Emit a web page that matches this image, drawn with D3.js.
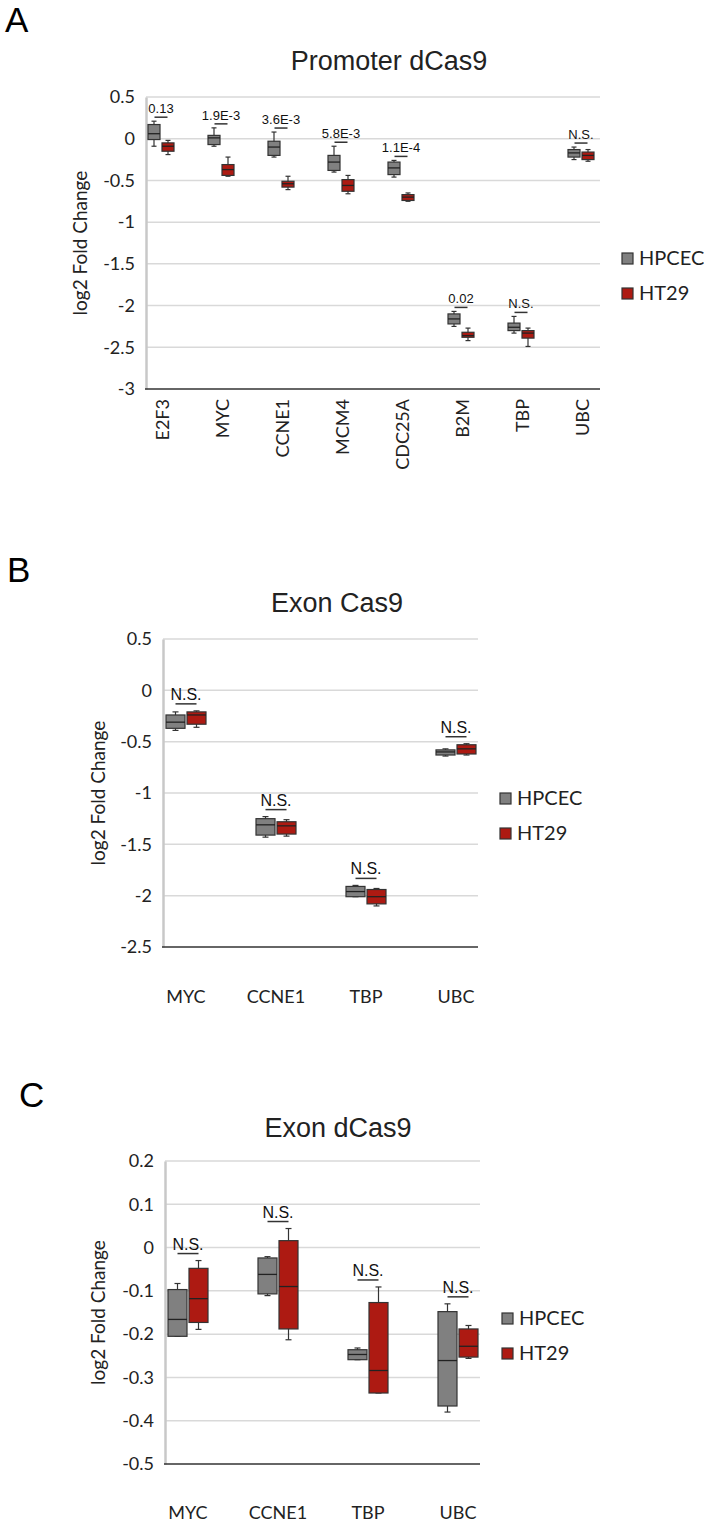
<!DOCTYPE html>
<html>
<head>
<meta charset="utf-8">
<script src="https://cdnjs.cloudflare.com/ajax/libs/d3/7.8.5/d3.min.js"></script>
<style>
body{margin:0;background:#fff}
</style>
</head>
<body>
<svg id="fig"></svg>
<script>
// each box: [whisker low, q1, median, q3, whisker high]
var promoterGenes = ["E2F3","MYC","CCNE1","MCM4","CDC25A","B2M","TBP","UBC"];
var promoterHPCEC = [[-0.09,-0.01,0.06,0.17,0.21],[-0.09,-0.07,0.01,0.04,0.13],[-0.22,-0.20,-0.10,-0.03,0.08],
    [-0.40,-0.38,-0.28,-0.20,-0.09],[-0.46,-0.43,-0.35,-0.28,-0.26],[-2.25,-2.22,-2.16,-2.10,-2.07],
    [-2.33,-2.30,-2.26,-2.21,-2.13],[-0.25,-0.22,-0.17,-0.13,-0.10]];
var promoterHT29 = [[-0.19,-0.15,-0.09,-0.05,-0.02],[-0.45,-0.44,-0.37,-0.31,-0.22],[-0.61,-0.58,-0.54,-0.51,-0.45],
    [-0.66,-0.63,-0.56,-0.49,-0.44],[-0.75,-0.74,-0.70,-0.67,-0.65],[-2.42,-2.38,-2.36,-2.32,-2.27],
    [-2.49,-2.39,-2.33,-2.30,-2.27],[-0.27,-0.25,-0.20,-0.16,-0.13]];
var promoterP = ["0.13","1.9E-3","3.6E-3","5.8E-3","1.1E-4","0.02","N.S.","N.S."];
var promoterTicks = [0.5,0,-0.5,-1,-1.5,-2,-2.5,-3];

var exonGenes = ["MYC","CCNE1","TBP","UBC"];
var exonHPCEC = [[-0.39,-0.37,-0.31,-0.24,-0.21],[-1.43,-1.41,-1.31,-1.25,-1.23],[-2.01,-2.01,-1.96,-1.91,-1.90],[-0.64,-0.63,-0.60,-0.58,-0.57]];
var exonHT29 = [[-0.36,-0.33,-0.24,-0.21,-0.20],[-1.42,-1.40,-1.32,-1.28,-1.26],[-2.10,-2.08,-2.01,-1.94,-1.93],[-0.63,-0.62,-0.57,-0.53,-0.52]];
var exonP = ["N.S.","N.S.","N.S.","N.S."];
var exonTicks = [0.5,0,-0.5,-1,-1.5,-2,-2.5];

var exonDGenes = ["MYC","CCNE1","TBP","UBC"];
var exonDHPCEC = [[-0.205,-0.205,-0.166,-0.097,-0.083],[-0.111,-0.107,-0.062,-0.024,-0.021],[-0.259,-0.259,-0.247,-0.236,-0.232],[-0.380,-0.366,-0.261,-0.148,-0.130]];
var exonDHT29 = [[-0.189,-0.173,-0.118,-0.048,-0.030],[-0.213,-0.188,-0.090,0.016,0.044],[-0.336,-0.336,-0.284,-0.127,-0.091],[-0.256,-0.253,-0.228,-0.188,-0.180]];
var exonDP = ["N.S.","N.S.","N.S.","N.S."];
var exonDTicks = [0.2,0.1,0,-0.1,-0.2,-0.3,-0.4,-0.5];

var seriesNames = ["HPCEC","HT29"];
var seriesColors = ["#808080","#ad1a12"];

var svg = d3.select("#fig").attr("width",704).attr("height",1536);

var sans = "'Liberation Sans', Arial, sans-serif";
var axisFont = "Lato, 'Open Sans', sans-serif";

var panels = [
  {letter:"A", lx:5, ly:32, title:"Promoter dCas9", tx:389, ty:70,
   genes:promoterGenes, sets:[promoterHPCEC,promoterHT29], pv:promoterP, ticks:promoterTicks,
   left:146, right:600, top:97, bottom:389, first:161, last:581,
   boxW:12, gap:2, capW:5, pFont:13, barW:13, pGap:4, rotate:true,
   ylx:80, legX:622, legY:[253,288]},
  {letter:"B", lx:7, ly:582, title:"Exon Cas9", tx:337, ty:612,
   genes:exonGenes, sets:[exonHPCEC,exonHT29], pv:exonP, ticks:exonTicks,
   left:163, right:478, top:639, bottom:947, first:186, last:456,
   boxW:19, gap:2, capW:6, pFont:16, barW:21, pGap:7, rotate:false, catY:1003,
   ylx:98, legX:500, legY:[793,828]},
  {letter:"C", lx:19, ly:1107, title:"Exon dCas9", tx:338, ty:1137,
   genes:exonDGenes, sets:[exonDHPCEC,exonDHT29], pv:exonDP, ticks:exonDTicks,
   left:165, right:480, top:1161, bottom:1464, first:188, last:458,
   boxW:19, gap:2, capW:6, pFont:16, barW:21, pGap:7, rotate:false, catY:1519,
   ylx:98, legX:502, legY:[1313,1348]}
];

panels.forEach(function(p){ drawPanel(p); });

function drawPanel(p){
  var g = svg.append("g");

  var y = d3.scaleLinear()
      .domain([d3.min(p.ticks), d3.max(p.ticks)])
      .range([p.bottom, p.top]);
  var x = d3.scalePoint()
      .domain(p.genes)
      .range([p.first, p.last]);

  // panel letter and title
  g.append("text").text(p.letter)
    .attr("x",p.lx).attr("y",p.ly)
    .style("font-family",sans).style("font-size","35px").attr("fill","#000");
  g.append("text").text(p.title)
    .attr("x",p.tx).attr("y",p.ty).attr("text-anchor","middle")
    .style("font-family",sans).style("font-size","27px").attr("fill","#222");

  // gridlines
  g.append("g").selectAll("line")
    .data(p.ticks.filter(function(t){ return t !== d3.min(p.ticks); }))
    .enter().append("line")
    .attr("x1",p.left).attr("x2",p.right)
    .attr("y1",function(d){ return y(d); }).attr("y2",function(d){ return y(d); })
    .attr("stroke","#d9d9d9").attr("stroke-width",1.5);

  // y axis
  var yAxis = d3.axisLeft(y).tickValues(p.ticks).tickSize(0).tickPadding(11)
      .tickFormat(function(d){ return String(Math.round(d*10)/10); });
  var ya = g.append("g").attr("transform","translate("+p.left+",0)").call(yAxis);
  ya.select(".domain").attr("stroke","#c8c8c8").attr("stroke-width",2.5);
  ya.selectAll("text").style("font-family",axisFont).style("font-size","18px").attr("fill","#222");

  // bottom axis line
  g.append("line").attr("x1",p.left-1).attr("x2",p.right)
    .attr("y1",p.bottom).attr("y2",p.bottom)
    .attr("stroke","#333").attr("stroke-width",1.5);

  // category labels
  var cats = g.append("g").selectAll("text").data(p.genes).enter().append("text")
    .text(function(d){ return d; })
    .style("font-family",axisFont).style("font-size","18px").attr("fill","#222");
  if(p.rotate){
    cats.attr("text-anchor","end")
      .attr("transform",function(d){ return "translate("+(x(d)+8)+","+(p.bottom+10)+") rotate(-90)"; });
  } else {
    cats.attr("text-anchor","middle")
      .attr("x",function(d){ return x(d); }).attr("y",p.catY);
  }

  // y label
  g.append("text").text("log2 Fold Change")
    .attr("text-anchor","middle")
    .attr("transform","translate("+(p.ylx+7)+","+((p.top+p.bottom)/2)+") rotate(-90)")
    .style("font-family",axisFont).style("font-size","19px").attr("fill","#222");

  // boxes
  p.sets.forEach(function(set,si){
    var off = si===0 ? -(p.boxW + p.gap/2) : p.gap/2;
    var bg = g.append("g").selectAll("g").data(set).enter().append("g")
      .attr("transform",function(d,i){ return "translate("+(x(p.genes[i])+off)+",0)"; });
    var mid = p.boxW/2;
    bg.append("line").attr("x1",mid).attr("x2",mid)
      .attr("y1",function(d){ return y(d[0]); }).attr("y2",function(d){ return y(d[4]); })
      .attr("stroke","#333").attr("stroke-width",1.2);
    bg.selectAll(".cap").data(function(d){ return [d[0],d[4]]; }).enter().append("line")
      .attr("x1",mid-p.capW/2).attr("x2",mid+p.capW/2)
      .attr("y1",function(v){ return y(v); }).attr("y2",function(v){ return y(v); })
      .attr("stroke","#333").attr("stroke-width",1.2);
    bg.append("rect").attr("x",0).attr("width",p.boxW)
      .attr("y",function(d){ return y(d[3]); })
      .attr("height",function(d){ return Math.max(1,y(d[1])-y(d[3])); })
      .attr("fill",seriesColors[si]).attr("stroke","#333").attr("stroke-width",1.2);
    bg.append("line").attr("x1",0).attr("x2",p.boxW)
      .attr("y1",function(d){ return y(d[2]); }).attr("y2",function(d){ return y(d[2]); })
      .attr("stroke","#222").attr("stroke-width",1.3);
  });

  // significance labels
  var sg = g.append("g").selectAll("g").data(p.pv).enter().append("g")
    .attr("transform",function(d,i){
      var top = Math.max(p.sets[0][i][4], p.sets[1][i][4]);
      return "translate("+x(p.genes[i])+","+(y(top)-p.pGap)+")";
    });
  sg.append("line").attr("x1",-p.barW/2).attr("x2",p.barW/2)
    .attr("stroke","#333").attr("stroke-width",1.5);
  sg.append("text").text(function(d){ return d; })
    .attr("text-anchor","middle").attr("y",-4)
    .style("font-family",sans).style("font-size",p.pFont+"px").attr("fill","#111");

  // legend
  seriesNames.forEach(function(n,i){
    g.append("rect").attr("x",p.legX).attr("y",p.legY[i]).attr("width",11).attr("height",11)
      .attr("fill",seriesColors[i]).attr("stroke","#333").attr("stroke-width",1.2);
    g.append("text").text(n).attr("x",p.legX+17).attr("y",p.legY[i]+12)
      .style("font-family",axisFont).style("font-size","20px").attr("fill","#222");
  });
}
</script>
</body>
</html>
